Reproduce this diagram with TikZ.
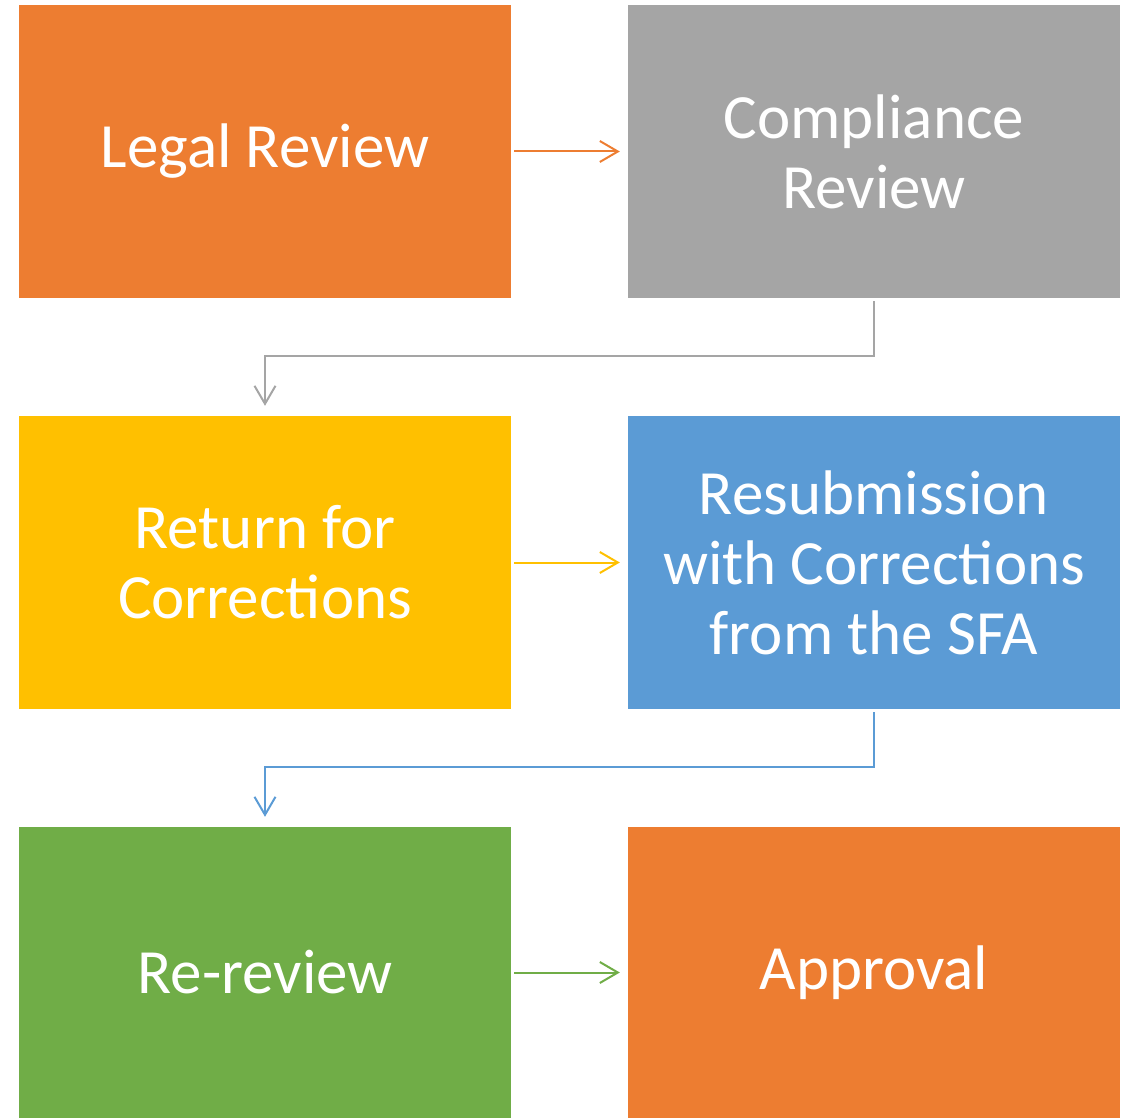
\documentclass[tikz,border=0pt]{standalone}
\usepackage{fontspec}
\setmainfont{Carlito}
\usetikzlibrary{arrows.meta}
\definecolor{corange}{HTML}{ED7D31}
\definecolor{cgray}{HTML}{A5A5A5}
\definecolor{cyellow}{HTML}{FFC000}
\definecolor{cblue}{HTML}{5B9BD5}
\definecolor{cgreen}{HTML}{70AD47}
\begin{document}
\begin{tikzpicture}[x=1pt,y=-1pt,
  stepbox/.style={rectangle, minimum width=492pt, minimum height=293pt, inner sep=0pt,
    text=white, align=center, font=\fontsize{63}{70}\selectfont},
  conn/.style={line width=2pt, -{Straight Barb[length=18pt,width=21pt,line width=2pt]}}]
\useasboundingbox (0,0) rectangle (1126,1118);
\node[stepbox, fill=corange] (legal) at (265,151.5) {Legal Review};
\node[stepbox, fill=cgray] (comp) at (874,151.5) {Compliance\\Review};
\node[stepbox, fill=cyellow] (ret) at (265,562.5) {Return for\\Corrections};
\node[stepbox, fill=cblue] (resub) at (874,562.5) {Resubmission\\with Corrections\\from the SFA};
\node[stepbox, fill=cgreen, minimum height=291pt] (rerev) at (265,972.5) {Re-review};
\node[stepbox, fill=corange, minimum height=291pt] (appr) at (874,972.5) {Approval};
\draw[conn, draw=corange, shorten <=3pt, shorten >=8pt] (legal.east) -- (comp.west);
\draw[conn, draw=cgray, shorten <=3pt, shorten >=10pt] (comp.south) -- ++(0,58) -| (ret.north);
\draw[conn, draw=cyellow, shorten <=3pt, shorten >=8pt] (ret.east) -- (resub.west);
\draw[conn, draw=cblue, shorten <=3pt, shorten >=10pt] (resub.south) -- ++(0,58) -| (rerev.north);
\draw[conn, draw=cgreen, shorten <=3pt, shorten >=8pt] (rerev.east) -- (appr.west);
\end{tikzpicture}
\end{document}
